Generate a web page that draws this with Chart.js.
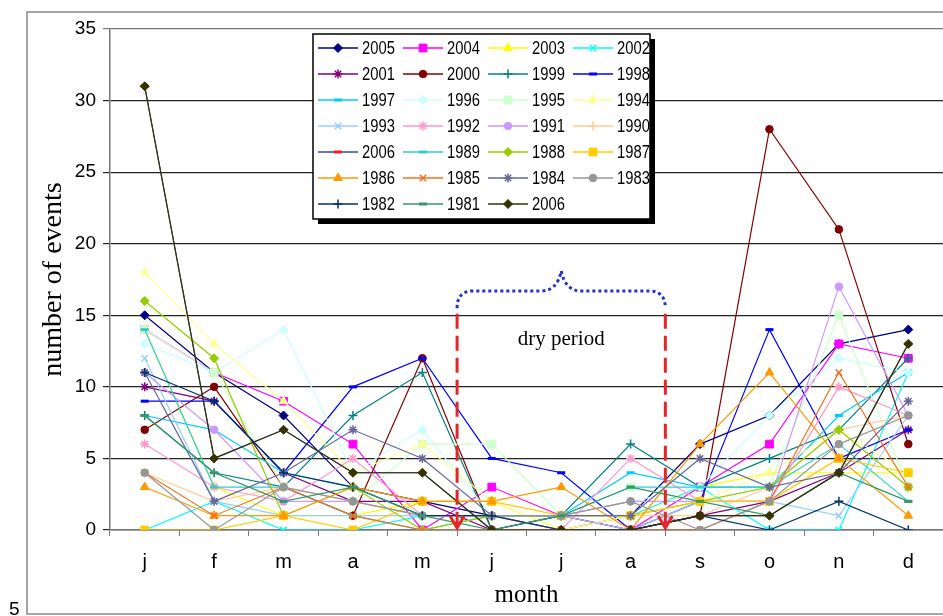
<!DOCTYPE html>
<html>
<head>
<meta charset="utf-8">
<script src="https://cdn.jsdelivr.net/npm/chart.js@4/dist/chart.umd.min.js"></script>
<style>
  html, body { margin: 0; padding: 0; background: #fff; }
  #wrap { position: relative; width: 943px; height: 616px; }
</style>
</head>
<body>
<div id="wrap"><canvas id="myChart"></canvas></div>
<script>
// months on the x axis
const months = ['j', 'f', 'm', 'a', 'm', 'j', 'j', 'a', 's', 'o', 'n', 'd'];
const yTicks = [0, 5, 10, 15, 20, 25, 30, 35];

// number of events per month, one array per year
const y2005 = [15, 11, 8, 3, 2, 1, 0, 1, 6, 8, 13, 14];
const y2004 = [14, 11, 9, 6, 0, 3, 1, 0, 3, 6, 13, 12];
const y2003 = [14, 3, 1, 1, 2, 2, 0, 1, 3, 4, 4, 4];
const y2002 = [0, 2, 0, 0, 1, 1, 1, 1, 3, 0, 0, 11];
const y2001 = [10, 9, 4, 2, 2, 0, 1, 0, 1, 2, 4, 7];
const y2000 = [7, 10, 3, 1, 12, 0, 0, 0, 1, 28, 21, 6];
const y1999 = [8, 4, 3, 8, 11, 0, 1, 6, 3, 5, 7, 12];
const y1998 = [9, 9, 4, 10, 12, 5, 4, 0, 2, 14, 5, 7];
const y1997 = [8, 7, 4, 3, 1, 1, 1, 4, 3, 3, 8, 11];
const y1996 = [13, 11, 14, 4, 7, 1, 1, 2, 3, 8, 12, 11];
const y1995 = [14, 11, 3, 2, 6, 6, 1, 3, 2, 3, 15, 3];
const y1994 = [18, 13, 9, 4, 6, 2, 0, 1, 2, 4, 7, 4];
const y1993 = [12, 2, 1, 1, 1, 1, 1, 0, 2, 2, 1, 8];
const y1992 = [6, 3, 2, 5, 1, 1, 0, 5, 2, 2, 10, 8];
const y1991 = [11, 7, 2, 2, 1, 1, 1, 2, 2, 2, 17, 8];
const y1990 = [4, 2, 3, 2, 1, 1, 1, 1, 1, 3, 7, 8];
const y2006a = [31, 5, 7, 4, 4, 0, 0, 0, 1, 1, 4, 13];
const y1989 = [14, 3, 3, 1, 0, 1, 1, 3, 3, 3, 6, 2];
const y1988 = [16, 12, 1, 3, 0, 1, 1, 1, 2, 3, 7, 3];
const y1987 = [0, 0, 1, 0, 2, 2, 1, 1, 2, 2, 5, 4];
const y1986 = [3, 1, 1, 3, 2, 2, 3, 0, 6, 11, 5, 1];
const y1985 = [4, 1, 3, 1, 0, 0, 0, 0, 0, 2, 11, 3];
const y1984 = [11, 2, 4, 7, 5, 1, 1, 1, 5, 3, 4, 9];
const y1983 = [4, 0, 3, 2, 1, 1, 1, 2, 0, 2, 6, 8];
const y1982 = [11, 9, 4, 3, 1, 1, 0, 0, 1, 0, 2, 0];
const y1981 = [8, 4, 2, 3, 1, 0, 1, 3, 2, 1, 4, 2];
const y2006b = [31, 5, 7, 4, 4, 0, 0, 0, 1, 1, 4, 13];

// dry period lies between these category positions
const dryStart = 4.5;
const dryEnd = 7.5;

// [label, data, line colour, marker colour, marker style]
const series = [
    ['2005', y2005, '#000080', '#000080', 'rectRot'],
    ['2004', y2004, '#FF00FF', '#FF00FF', 'rect'],
    ['2003', y2003, '#FFFF00', '#FFFF00', 'triangle'],
    ['2002', y2002, '#00FFFF', '#00FFFF', 'crossRot'],
    ['2001', y2001, '#800080', '#800080', 'star'],
    ['2000', y2000, '#800000', '#800000', 'circle'],
    ['1999', y1999, '#008080', '#008080', 'cross'],
    ['1998', y1998, '#0000FF', '#0000FF', 'line'],
    ['1997', y1997, '#00CCFF', '#00CCFF', 'line'],
    ['1996', y1996, '#CCFFFF', '#CCFFFF', 'rectRot'],
    ['1995', y1995, '#CCFFCC', '#CCFFCC', 'rect'],
    ['1994', y1994, '#FFFF99', '#FFFF99', 'triangle'],
    ['1993', y1993, '#99CCFF', '#99CCFF', 'crossRot'],
    ['1992', y1992, '#FF99CC', '#FF99CC', 'star'],
    ['1991', y1991, '#CC99FF', '#CC99FF', 'circle'],
    ['1990', y1990, '#FFCC99', '#FFCC99', 'cross'],
    ['2006', y2006a, '#334A9A', '#E8202A', 'line'],
    ['1989', y1989, '#33CCCC', '#33CCCC', 'line'],
    ['1988', y1988, '#99CC00', '#99CC00', 'rectRot'],
    ['1987', y1987, '#FFCC00', '#FFCC00', 'rect'],
    ['1986', y1986, '#FF9900', '#FF9900', 'triangle'],
    ['1985', y1985, '#F07020', '#F07020', 'crossRot'],
    ['1984', y1984, '#666699', '#666699', 'star'],
    ['1983', y1983, '#969696', '#969696', 'circle'],
    ['1982', y1982, '#003366', '#003366', 'cross'],
    ['1981', y1981, '#339966', '#339966', 'line'],
    ['2006', y2006b, '#333300', '#333300', 'rectRot'],
];

const radius = {rectRot: 4.5, rect: 5.5, triangle: 5, crossRot: 4.5, star: 4.5, circle: 3.8, cross: 4.5, line: 4};
const markerWidth = {line: 3, cross: 1.5, crossRot: 1.5, star: 1.5};

const datasets = series.map((s, i) => ({
    label: s[0],
    data: s[1],
    borderColor: s[2],
    backgroundColor: s[3],
    borderWidth: 1.2,
    tension: 0,
    pointStyle: s[4],
    pointRadius: radius[s[4]],
    pointBackgroundColor: s[3],
    pointBorderColor: s[3],
    pointBorderWidth: markerWidth[s[4]] || 1,
    order: series.length - i,
}));

const extras = {
    id: 'extras',
    afterDatasetsDraw(chart) {
        const {ctx, scales: {x, y}} = chart;
        const x1 = x.getPixelForValue(dryStart);
        const x2 = x.getPixelForValue(dryEnd);
        const xm = (x1 + x2) / 2;
        ctx.save();
        // red dashed lines with arrow heads
        ctx.strokeStyle = '#E3262A';
        ctx.lineWidth = 3;
        [x1, x2].forEach(px => {
            const yb = y.getPixelForValue(0) - 2;
            ctx.setLineDash([15, 7]);
            ctx.beginPath();
            ctx.moveTo(px, y.getPixelForValue(15.1));
            ctx.lineTo(px, yb);
            ctx.stroke();
            ctx.setLineDash([]);
            ctx.beginPath();
            ctx.moveTo(px - 7, yb - 12);
            ctx.lineTo(px, yb);
            ctx.lineTo(px + 7, yb - 12);
            ctx.stroke();
        });
        // blue dotted brace
        const top = y.getPixelForValue(16.7);
        const peak = y.getPixelForValue(18.1);
        const end = y.getPixelForValue(15.5);
        ctx.strokeStyle = '#2233CC';
        ctx.lineWidth = 3;
        ctx.setLineDash([3, 3]);
        ctx.beginPath();
        ctx.moveTo(x1, end);
        ctx.quadraticCurveTo(x1, top, x1 + 16, top);
        ctx.lineTo(xm - 20, top);
        ctx.quadraticCurveTo(xm - 4, top, xm, peak);
        ctx.quadraticCurveTo(xm + 4, top, xm + 20, top);
        ctx.lineTo(x2 - 16, top);
        ctx.quadraticCurveTo(x2, top, x2, end);
        ctx.stroke();
        ctx.setLineDash([]);
        // label
        ctx.fillStyle = '#000';
        ctx.font = '21px "Liberation Serif", "Times New Roman", serif';
        ctx.textAlign = 'center';
        ctx.textBaseline = 'middle';
        ctx.fillText('dry period', xm, y.getPixelForValue(13.3));
        ctx.restore();
    },
    afterDraw(chart) {
        const ctx = chart.ctx;
        ctx.save();
        // outer frame and stray page number
        ctx.strokeStyle = '#888';
        ctx.lineWidth = 1.5;
        ctx.strokeRect(27, 12, 930, 602);
        ctx.fillStyle = '#000';
        ctx.font = '19px "Liberation Sans", Arial, sans-serif';
        ctx.textAlign = 'left';
        ctx.textBaseline = 'alphabetic';
        ctx.fillText('5', 9, 615);

        // legend box
        const L = 313, T = 34, W = 337, H = 185;
        ctx.fillStyle = '#000';
        ctx.fillRect(L + 5, T + 5, W, H);
        ctx.fillStyle = '#fff';
        ctx.fillRect(L, T, W, H);
        ctx.strokeStyle = '#000';
        ctx.lineWidth = 1.5;
        ctx.strokeRect(L, T, W, H);
        chart.data.datasets.forEach((ds, i) => {
            const col = i % 4, row = Math.floor(i / 4);
            const x0 = L + 5 + col * 85;
            const yc = T + 14 + row * 26;
            ctx.strokeStyle = ds.borderColor;
            ctx.lineWidth = 1.5;
            ctx.beginPath();
            ctx.moveTo(x0, yc);
            ctx.lineTo(x0 + 40, yc);
            ctx.stroke();
            ctx.fillStyle = ds.pointBackgroundColor;
            ctx.strokeStyle = ds.pointBorderColor;
            ctx.lineWidth = ds.pointBorderWidth;
            Chart.helpers.drawPoint(ctx, {
                pointStyle: ds.pointStyle, radius: ds.pointRadius, rotation: 0, borderWidth: ds.pointBorderWidth
            }, x0 + 20, yc);
            ctx.fillStyle = '#000';
            ctx.font = '18px "Liberation Sans", Arial, sans-serif';
            ctx.textBaseline = 'middle';
            ctx.save();
            ctx.translate(x0 + 44, yc + 1);
            ctx.scale(0.82, 1);
            ctx.fillText(ds.label, 0, 0);
            ctx.restore();
        });
        ctx.restore();
    }
};

let ctx = document.getElementById('myChart').getContext('2d');
let myChart = new Chart(ctx, {
    type: 'line',
    data: {
        labels: months,
        datasets: datasets
    },
    options: {
        responsive: true,
        maintainAspectRatio: false,
        animation: false,
        layout: {
            autoPadding: false,
            padding: {top: 29, left: 0, right: 0, bottom: 0}
        },
        plugins: {
            legend: {display: false},
            tooltip: {enabled: false}
        },
        scales: {
            x: {
                offset: true,
                afterFit: s => { s.height = 86; },
                grid: {
                    offset: true,
                    drawOnChartArea: false,
                    tickLength: 6,
                    color: '#777'
                },
                border: {color: '#777', width: 1.5},
                ticks: {
                    color: '#000',
                    padding: 14,
                    font: {family: '"Liberation Sans", Arial, sans-serif', size: 20}
                },
                title: {
                    display: true,
                    text: 'month',
                    color: '#000',
                    padding: {top: 0, bottom: 6},
                    font: {family: '"Liberation Serif", "Times New Roman", serif', size: 25}
                }
            },
            y: {
                min: yTicks[0],
                max: yTicks[yTicks.length - 1],
                afterFit: s => { s.width = 110; },
                afterBuildTicks: s => { s.ticks = yTicks.map(v => ({value: v})); },
                grid: {
                    tickLength: 7,
                    lineWidth: 1.2,
                    color: c => (c.tick && c.tick.value === 35) ? '#777' : '#222'
                },
                border: {color: '#777', width: 1.5},
                ticks: {
                    color: '#000',
                    padding: 7,
                    font: {family: '"Liberation Sans", Arial, sans-serif', size: 19}
                },
                title: {
                    display: true,
                    text: 'number of events',
                    color: '#000',
                    padding: {top: 37, bottom: 0},
                    font: {family: '"Liberation Serif", "Times New Roman", serif', size: 28}
                }
            }
        }
    },
    plugins: [extras]
});
</script>
</body>
</html>
